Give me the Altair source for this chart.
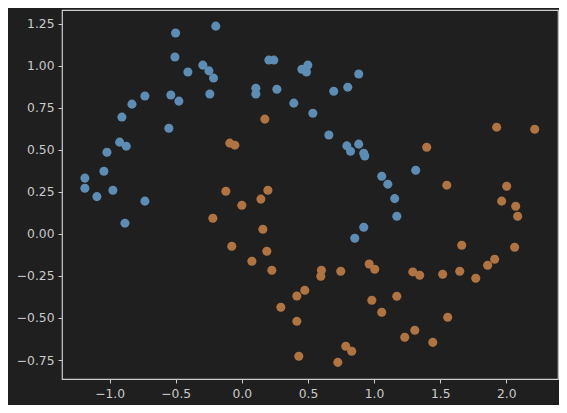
import altair as alt
import pandas as pd

blue_x = [-0.501, -0.197, -0.506, -0.408, -0.295, -0.249, -0.214, -0.242, -0.537, -0.476,
          -0.733, -0.831, -0.907, -0.552, -0.924, -0.874, -1.020, -1.043, -1.187, -1.187,
          -1.096, -0.975, -0.733, -0.884, 0.106, 0.106, 0.204, 0.242, 0.265, 0.393,
          0.537, 0.454, 0.499, 0.489, 0.884, 0.695, 0.801, 0.658, 0.794, 0.822,
          0.884, 0.922, 0.930, 1.058, 1.104, 1.156, 1.315, 1.172, 0.922, 0.854]
blue_y = [1.195, 1.236, 1.052, 0.963, 1.004, 0.970, 0.927, 0.832, 0.826, 0.790,
          0.820, 0.772, 0.695, 0.629, 0.546, 0.522, 0.486, 0.373, 0.332, 0.272,
          0.222, 0.260, 0.195, 0.064, 0.867, 0.832, 1.034, 1.034, 0.861, 0.778,
          0.718, 0.980, 1.004, 0.963, 0.951, 0.849, 0.873, 0.588, 0.524, 0.492,
          0.534, 0.480, 0.463, 0.343, 0.296, 0.210, 0.379, 0.105, 0.040, -0.026]
orange_x = [0.174, -0.091, -0.053, -0.121, 0.197, 0.144, 1.398, 1.927, 2.215, 1.550,
            2.003, 0.000, -0.219, 0.159, -0.076, 0.189, 0.076, 0.227, 0.476, 0.416,
            0.295, 0.416, 0.431, 0.602, 0.597, 1.965, 2.071, 2.086, 1.663, 2.063,
            1.912, 1.859, 1.769, 1.648, 1.519, 1.293, 1.345, 0.963, 1.005, 0.748,
            0.983, 1.172, 1.058, 1.557, 1.308, 1.232, 1.444, 0.786, 0.831, 0.726]
orange_y = [0.683, 0.540, 0.528, 0.254, 0.260, 0.207, 0.516, 0.635, 0.623, 0.290,
            0.284, 0.171, 0.093, 0.028, -0.073, -0.103, -0.163, -0.216, -0.335, -0.369,
            -0.436, -0.520, -0.728, -0.216, -0.252, 0.195, 0.165, 0.105, -0.067, -0.079,
            -0.151, -0.186, -0.264, -0.222, -0.240, -0.226, -0.246, -0.179, -0.210, -0.222,
            -0.395, -0.371, -0.466, -0.496, -0.573, -0.615, -0.645, -0.668, -0.698, -0.764]

x_ticks = [-1.0, -0.5, 0.0, 0.5, 1.0, 1.5, 2.0]
y_ticks = [-0.75, -0.5, -0.25, 0.0, 0.25, 0.5, 0.75, 1.0, 1.25]

df = pd.DataFrame({
    "x": blue_x + orange_x,
    "y": blue_y + orange_y,
    "cls": ["0"] * len(blue_x) + ["1"] * len(orange_x),
})

BG = "#1f1f1f"
FG = "#cccccc"

chart = alt.Chart(df).mark_circle(size=82, opacity=1).encode(
    x=alt.X("x:Q", scale=alt.Scale(domain=[-1.36, 2.391], nice=False, zero=False),
            axis=alt.Axis(values=x_ticks, format=".1f", title=None, grid=False,
                          domain=False, tickColor=FG, tickSize=4, labelPadding=4,
                          labelColor=FG, labelFont="DejaVu Sans", labelFontSize=12.3)),
    y=alt.Y("y:Q", scale=alt.Scale(domain=[-0.863, 1.332], nice=False, zero=False),
            axis=alt.Axis(values=y_ticks, format=".2f", title=None, grid=False,
                          domain=False, tickColor=FG, tickSize=4, labelPadding=4,
                          labelColor=FG, labelFont="DejaVu Sans", labelFontSize=12.3)),
    color=alt.Color("cls:N", scale=alt.Scale(domain=["0", "1"], range=["#5d8db4", "#b07442"]),
                    legend=None),
).properties(
    width=496, height=369,
    background=BG,
    padding={"left": 54, "top": 2, "right": 1, "bottom": 26},
    autosize=alt.AutoSizeParams(type="none"),
).configure_view(stroke=FG, strokeWidth=1.2, fill=BG)

chart.save("out.html", embed_options={"renderer": "svg", "actions": False})
